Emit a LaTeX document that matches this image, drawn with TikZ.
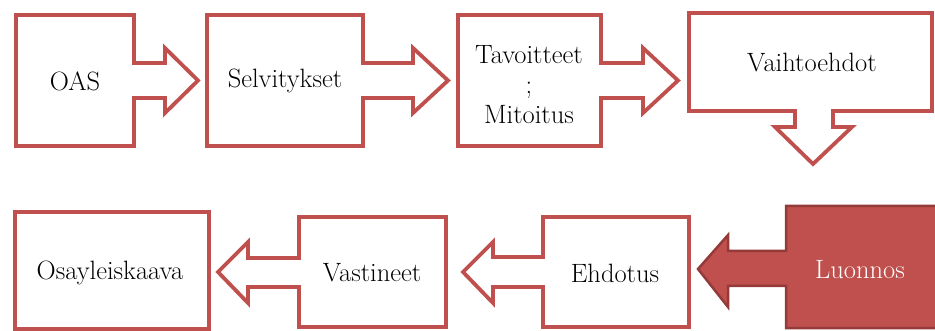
\documentclass[tikz,border=0pt]{standalone}
\definecolor{acc}{HTML}{C0504D}
\definecolor{accdark}{HTML}{943B39}
\begin{document}
\begin{tikzpicture}[x=1pt,y=-1pt,
  outl/.style={draw=acc,line width=3.8pt,fill=white,line join=miter},
  solid/.style={draw=accdark,line width=2.5pt,fill=acc,line join=miter},
  lbl/.style={font=\fontsize{26.5}{30}\selectfont,text=black,align=center,inner sep=0pt},
  lblw/.style={lbl,text=white}]
\useasboundingbox (0,0) rectangle (935,331);
% top row
\draw[outl] (16,15) -- (134,15) -- (134,63) -- (165,63) -- (165,48) -- (198,80.5)
  -- (165,113) -- (165,98) -- (134,98) -- (134,146) -- (16,146) -- cycle;
\draw[outl] (207,15) -- (363,15) -- (363,63) -- (413,63) -- (413,48) -- (448,80.5)
  -- (413,113) -- (413,98) -- (363,98) -- (363,146) -- (207,146) -- cycle;
\draw[outl] (458,15) -- (601,15) -- (601,63) -- (643,63) -- (643,48) -- (678,80.5)
  -- (643,113) -- (643,98) -- (601,98) -- (601,146) -- (458,146) -- cycle;
\draw[outl] (689,13) -- (932,13) -- (932,111) -- (833,111) -- (833,127) -- (852,127)
  -- (813,164) -- (775,127) -- (795,127) -- (795,111) -- (689,111) -- cycle;
% bottom row
\draw[outl] (15,212) rectangle (209,329);
\draw[outl] (446,217) -- (299,217) -- (299,258) -- (248,258) -- (248,242) -- (218,272)
  -- (248,303) -- (248,287) -- (299,287) -- (299,327) -- (446,327) -- cycle;
\draw[outl] (689,217) -- (543,217) -- (543,257) -- (493,257) -- (493,242) -- (463,272)
  -- (493,303) -- (493,287) -- (543,287) -- (543,327) -- (689,327) -- cycle;
\draw[solid] (945,206) -- (786,206) -- (786,251) -- (728,251) -- (728,235) -- (698,269)
  -- (728,307) -- (728,286) -- (786,286) -- (786,328) -- (945,328) -- cycle;
% labels
\node[lbl] (oas) at (75,81) {OAS};
\node[lbl] (selv) at (285,81) {Selvitykset};
\node[lbl] (tav) at (529,85) {Tavoitteet\\;\\Mitoitus};
\node[lbl] (vaiht) at (812,63) {Vaihtoehdot};
\node[lblw] (luon) at (860,270) {Luonnos};
\node[lbl] (ehd) at (615,273) {Ehdotus};
\node[lbl] (vast) at (372,273) {Vastineet};
\node[lbl] (osa) at (110,273) {Osayleiskaava};
\end{tikzpicture}
\end{document}
